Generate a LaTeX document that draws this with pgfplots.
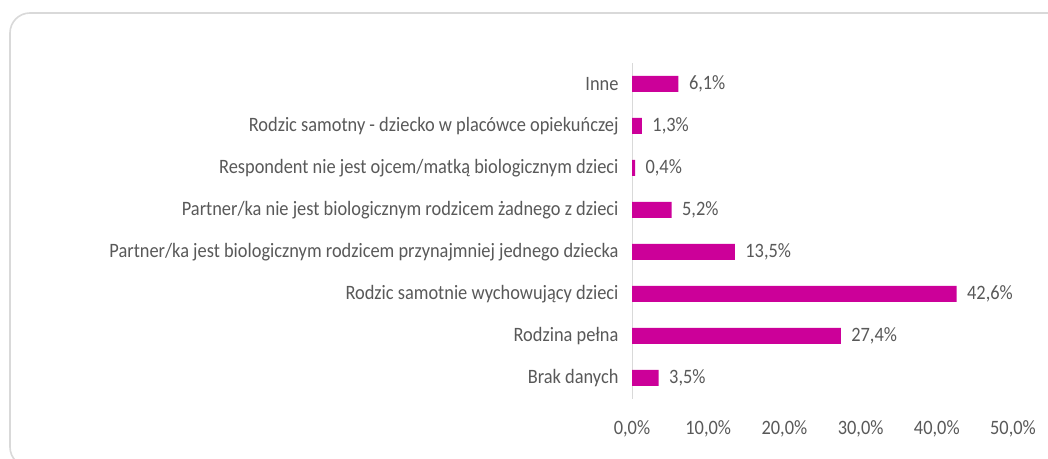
\documentclass[border=0pt]{standalone}
\usepackage{fontspec}
\setmainfont{Carlito}[FakeStretch=0.9]
\usepackage{pgfplots}
\pgfplotsset{compat=1.18}
\definecolor{barmag}{RGB}{204,0,153}
\definecolor{txt}{RGB}{89,89,89}
\definecolor{frame}{RGB}{217,217,217}
\begin{document}
\begin{tikzpicture}[x=1bp,y=1bp]
\useasboundingbox (0,0) rectangle (1048,459);
\clip (0,0) rectangle (1048,459);
\fill[white] (0,0) rectangle (1048,459);
\draw[frame, line width=1.6bp, rounded corners=20bp] (10,446) rectangle (1070,-8);
\begin{axis}[
  at={(632bp,60bp)}, anchor=south west,
  scale only axis, width=381bp, height=336bp,
  xmin=0, xmax=50, ymin=-0.5, ymax=7.5,
  xbar, bar width=16bp, bar shift=0pt,
  axis lines*=left,
  x axis line style={draw=none},
  y axis line style={draw=frame, line width=0.8bp},
  major tick length=0pt,
  xtick={0,10,20,30,40,50},
  ytick={0,...,7},
  yticklabels={Brak danych, Rodzina pełna, Rodzic samotnie wychowujący dzieci, Partner/ka jest biologicznym rodzicem przynajmniej jednego dziecka, Partner/ka nie jest biologicznym rodzicem żadnego z dzieci, Respondent nie jest ojcem/matką biologicznym dzieci, Rodzic samotny - dziecko w placówce opiekuńczej, Inne},
  /pgf/number format/assume math mode=true,
  xticklabel={\pgfmathprintnumber[fixed,fixed zerofill,precision=1,use comma]{\tick}\%},
  ticklabel style={font=\fontsize{20.5}{24}\selectfont, text=txt},
  xticklabel style={yshift=-18bp},
  yticklabel style={xshift=-10bp},
  nodes near coords={\pgfmathprintnumber[fixed,fixed zerofill,precision=1,use comma]{\pgfplotspointmeta}\%},
  nodes near coords style={font=\fontsize{20.5}{24}\selectfont, text=txt, anchor=west, xshift=7bp},
  point meta=explicit,
  clip=false,
]
\addplot[fill=barmag, draw=none] coordinates {
(3.5,0) [3.5]
(27.4,1) [27.4]
(42.6,2) [42.6]
(13.5,3) [13.5]
(5.2,4) [5.2]
(0.4,5) [0.4]
(1.3,6) [1.3]
(6.1,7) [6.1]
};
\end{axis}
\end{tikzpicture}
\end{document}
